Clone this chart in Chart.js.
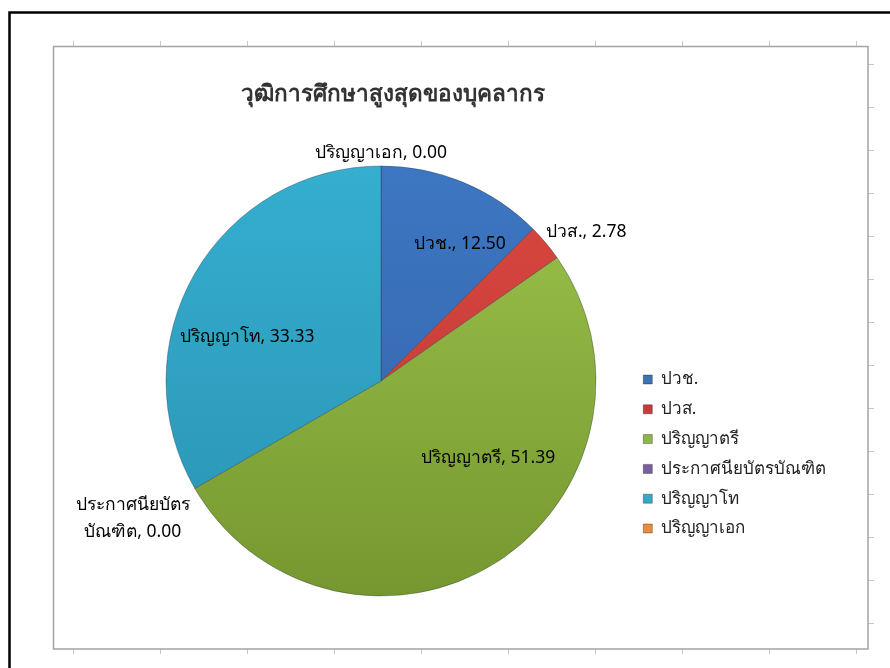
<!DOCTYPE html>
<html>
<head>
<meta charset="utf-8">
<script src="https://cdn.jsdelivr.net/npm/chart.js@4.4.1/dist/chart.umd.min.js"></script>
<style>
html, body { margin: 0; padding: 0; background: #fff; }
#wrap { position: relative; width: 890px; height: 668px; }
</style>
</head>
<body>
<div id="wrap"><canvas id="eduChart" width="890" height="668"></canvas></div>
<script>
var chartTitle = 'วุฒิการศึกษาสูงสุดของบุคลากร';
var categories = ['ปวช.', 'ปวส.', 'ปริญญาตรี', 'ประกาศนียบัตรบัณฑิต', 'ปริญญาโท', 'ปริญญาเอก'];
var percents = [12.50, 2.78, 51.39, 0.00, 33.33, 0.00];
// label text as Excel wraps it on the slice
var labelNames = ['ปวช.', 'ปวส.', 'ปริญญาตรี', 'ประกาศนียบัตร\nบัณฑิต', 'ปริญญาโท', 'ปริญญาเอก'];

var sliceTop = ['#3d76c2', '#d9463f', '#9cc34c', '#8a6cad', '#35aed0', '#f79a4b'];
var sliceBottom = ['#3363a8', '#bb3a34', '#76972f', '#6f5490', '#2a93b2', '#d9803a'];
var legendColors = ['#3f72b5', '#c33d3a', '#8fb64a', '#7a5fa0', '#38a8c7', '#e98c3f'];
// where each data label sits: distance as share of radius, turn in degrees from slice middle
var labelPlace = [
    {dist: 0.735, turn: 7.5},
    {dist: 1.18, turn: 4},
    {dist: 0.614, turn: -21.8},
    {dist: 1.32, turn: 1},
    {dist: 0.656, turn: -11.8},
    {dist: 1.06, turn: 0}
];
var fontFam = 'Tahoma, "Noto Sans", "DejaVu Sans", sans-serif';
var legendFontSize = 17;
var legendPad = 12.8;
var legendLeft = 630.5;

// legend width from the longest label, so the pie stays centred where it should
var mctx = document.createElement('canvas').getContext('2d');
mctx.font = legendFontSize + 'px ' + fontFam;
var longest = 0;
categories.forEach(function(c) { longest = Math.max(longest, mctx.measureText(c).width); });
var legendW = Math.ceil(legendPad + 9 + legendFontSize / 2 + longest + 2);

var framePlugin = {
    id: 'frame',
    beforeDraw: function(chart) {
        var ctx = chart.ctx;
        ctx.save();
        ctx.fillStyle = '#fff';
        ctx.fillRect(0, 0, chart.width, chart.height);
        ctx.strokeStyle = '#000';
        ctx.lineWidth = 2.5;
        ctx.beginPath();
        ctx.moveTo(9.5, chart.height);
        ctx.lineTo(9.5, 12.5);
        ctx.lineTo(chart.width, 12.5);
        ctx.stroke();
        ctx.strokeStyle = '#c6c6c6';
        ctx.lineWidth = 1;
        ctx.beginPath();
        for (var x = 73.5; x < 868; x += 87) {
            ctx.moveTo(x, 41); ctx.lineTo(x, 46);
            ctx.moveTo(x, 649); ctx.lineTo(x, 654);
        }
        for (var y = 64.5; y < 649; y += 43) {
            ctx.moveTo(868, y); ctx.lineTo(874, y);
        }
        ctx.stroke();
        ctx.strokeStyle = '#a3a3a3';
        ctx.lineWidth = 1.5;
        ctx.strokeRect(53.5, 46.5, 814.5, 602.5);
        ctx.restore();
    }
};

var sliceLabels = {
    id: 'sliceLabels',
    afterDatasetsDraw: function(chart) {
        var ctx = chart.ctx;
        var meta = chart.getDatasetMeta(0);
        ctx.save();
        ctx.font = '17.5px ' + fontFam;
        ctx.fillStyle = '#000';
        ctx.textAlign = 'center';
        ctx.textBaseline = 'middle';
        meta.data.forEach(function(arc, i) {
            var p = arc.getProps(['x', 'y', 'startAngle', 'endAngle', 'outerRadius'], true);
            var a = (p.startAngle + p.endAngle) / 2 + labelPlace[i].turn * Math.PI / 180;
            var r = p.outerRadius * labelPlace[i].dist;
            var lx = p.x + Math.cos(a) * r;
            var ly = p.y + Math.sin(a) * r;
            var lines = (labelNames[i] + ', ' + percents[i].toFixed(2)).split('\n');
            lines.forEach(function(ln, k) {
                ctx.fillText(ln, lx, ly + (k - (lines.length - 1) / 2) * 27);
            });
        });
        ctx.restore();
    }
};

var ctx = document.getElementById('eduChart').getContext('2d');
var eduChart = new Chart(ctx, {
    type: 'pie',
    data: {
        labels: categories,
        datasets: [{
            data: percents,
            backgroundColor: function(c) {
                var area = c.chart.chartArea;
                if (!area) return legendColors[c.dataIndex];
                var cy = (area.top + area.bottom) / 2;
                var g = c.chart.ctx.createLinearGradient(0, cy - 215, 0, cy + 215);
                g.addColorStop(0, sliceTop[c.dataIndex]);
                g.addColorStop(1, sliceBottom[c.dataIndex]);
                return g;
            },
            borderColor: 'rgba(30, 50, 60, 0.35)',
            borderWidth: 1
        }]
    },
    options: {
        responsive: false,
        animation: false,
        events: [],
        radius: 215,
        layout: {
            padding: {top: 0, left: 2 * 381 - legendLeft, right: 890 - legendLeft - legendW, bottom: 56}
        },
        plugins: {
            title: {
                display: true,
                // leading spaces nudge the centred title right, as in the original
                text: '    ' + chartTitle,
                fullSize: false,
                color: '#333',
                font: {family: fontFam, size: 22.5, weight: 'bold'},
                padding: {top: 81.5, bottom: 41.5}
            },
            legend: {
                position: 'right',
                align: 'start',
                maxWidth: legendW,
                title: {
                    display: true,
                    text: ' ',
                    font: {size: 12},
                    padding: {top: 343.8, bottom: 0}
                },
                labels: {
                    boxWidth: 9,
                    boxHeight: 9,
                    padding: legendPad,
                    color: '#222',
                    font: {family: fontFam, size: legendFontSize},
                    generateLabels: function(chart) {
                        var items = Chart.controllers.pie.overrides.plugins.legend.labels.generateLabels(chart);
                        items.forEach(function(it, i) {
                            it.fillStyle = legendColors[i];
                            it.strokeStyle = 'rgba(0,0,0,0.3)';
                            it.lineWidth = 1;
                        });
                        return items;
                    }
                }
            },
            tooltip: {enabled: false}
        }
    },
    plugins: [framePlugin, sliceLabels]
});
</script>
</body>
</html>
